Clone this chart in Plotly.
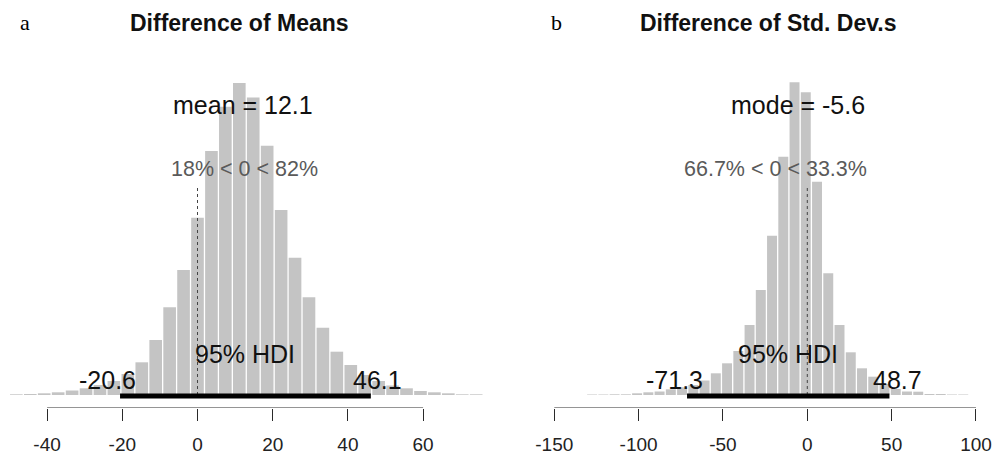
import plotly.graph_objects as go

# ---------------- data ----------------
# Panel a: Difference of Means (posterior histogram)
means_bin_width = 3.706
means_bin_centers = [-48.18, -44.47, -40.77, -37.06, -33.35, -29.65, -25.94, -22.24,
                     -18.53, -14.82, -11.12, -7.41, -3.71, 0.0, 3.71, 7.41, 11.12,
                     14.82, 18.53, 22.24, 25.94, 29.65, 33.35, 37.06, 40.77, 44.47,
                     48.18, 51.88, 55.59, 59.30, 63.00, 66.71, 70.41, 74.12]
means_heights = [0.7, 1.0, 1.7, 2.7, 4.5, 6.7, 10, 14, 21, 32.7, 55, 87.7, 125, 177.3,
                 244, 288.3, 312, 297.5, 249.3, 185, 137.3, 97.7, 67.3, 43.3, 30, 20,
                 14, 9.5, 6.7, 4, 2.7, 1.7, 0.7, 0.7]
means_stat_label = "mean"
means_stat = 12.1
means_hdi = [-20.6, 46.1]
means_pct = [18, 82]
means_ticks = [-40, -20, 0, 20, 40, 60]

# Panel b: Difference of Std. Dev.s (posterior histogram)
sds_bin_width = 6.667
sds_bin_centers = [-127.57, -120.91, -114.24, -107.57, -100.91, -94.24, -87.57, -80.91,
                   -74.24, -67.57, -60.91, -54.24, -47.57, -40.90, -34.24, -27.57,
                   -20.90, -14.23, -7.57, -0.90, 5.77, 12.43, 19.10, 25.77, 32.43,
                   39.10, 45.77, 52.44, 59.10, 65.77, 72.44, 79.10, 85.77, 92.44]
sds_heights = [0.5, 0.5, 0.7, 0.7, 1.7, 2.7, 3.5, 5.7, 7.7, 10, 14.5, 21.7, 31.7, 44,
               70, 105, 159.3, 238.3, 312.7, 302.7, 213.3, 121.7, 70, 42.7, 26.7, 18.3,
               11, 6, 3.5, 3.3, 1, 1, 0.5, 0.5]
sds_stat_label = "mode"
sds_stat = -5.6
sds_hdi = [-71.3, 48.7]
sds_pct = [66.7, 33.3]
sds_ticks = [-150, -100, -50, 0, 50, 100]

titles = ["Difference of Means", "Difference of Std. Dev.s"]
panel_letters = ["a", "b"]
comp_val = 0

# ---------------- style ----------------
W, H = 994, 455
SANS = "Liberation Sans, Arial, sans-serif"
SERIF = "Liberation Serif, Times New Roman, serif"
BAR = "#c4c4c4"
TXT = "#111111"
CVTXT = "#5a5a5a"
AX = "#2a2a2a"

# pixel geometry (paper = pixels, margins 0)
plot_top_px, axis_px = 60, 408
ydom = [1 - axis_px / H, 1 - plot_top_px / H]
yrange = [-13, 335]

panels = [
    dict(centers=means_bin_centers, heights=means_heights, bw=means_bin_width,
         scale=3.76, zero_px=197.5, dom_px=(0, 494), stat_label=means_stat_label,
         stat=means_stat, hdi=means_hdi, pct=means_pct, ticks=means_ticks,
         cv_shift=46.5, lo_shift=-13, hi_shift=7, title_x=239.7, letter_x=25),
    dict(centers=sds_bin_centers, heights=sds_heights, bw=sds_bin_width,
         scale=1.6868, zero_px=807.3, dom_px=(520, 994), stat_label=sds_stat_label,
         stat=sds_stat, hdi=sds_hdi, pct=sds_pct, ticks=sds_ticks,
         cv_shift=-32, lo_shift=-13, hi_shift=8, title_x=767.5, letter_x=556),
]

fig = go.Figure()
annotations = []
shapes = []

def fmt_pct(v):
    return f"{v:g}%"

for i, p in enumerate(panels):
    n = "" if i == 0 else str(i + 1)
    xa, ya = "x" + n, "y" + n
    gap_units = 1.3 / p["scale"]
    fig.add_trace(go.Bar(
        x=p["centers"], y=p["heights"], width=p["bw"] - gap_units,
        marker=dict(color=BAR, line=dict(width=0)),
        xaxis=xa, yaxis=ya, showlegend=False, hoverinfo="skip"))
    # comparison value dotted line
    fig.add_trace(go.Scatter(
        x=[comp_val, comp_val], y=[0, 210], mode="lines",
        line=dict(color="#444444", width=1, dash="dot"),
        xaxis=xa, yaxis=ya, showlegend=False, hoverinfo="skip"))
    # HDI bar
    fig.add_trace(go.Scatter(
        x=p["hdi"], y=[-1, -1], mode="lines",
        line=dict(color="black", width=5),
        xaxis=xa, yaxis=ya, showlegend=False, hoverinfo="skip"))

    d0, d1 = p["dom_px"]
    xr = [(d0 - p["zero_px"]) / p["scale"], (d1 - p["zero_px"]) / p["scale"]]
    xaxis_def = dict(
        domain=[d0 / W, d1 / W], range=xr, anchor=ya,
        showgrid=False, zeroline=False, showline=False,
        ticks="outside", ticklen=12, tickwidth=1, tickcolor=AX,
        tickvals=p["ticks"], ticktext=[str(t) for t in p["ticks"]],
        tickfont=dict(family=SANS, size=19, color="#222222"),
        ticklabelstandoff=7, fixedrange=True)
    yaxis_def = dict(domain=ydom, range=yrange, visible=False, anchor=xa,
                     fixedrange=True)
    fig.update_layout(**{"xaxis" + n: xaxis_def, "yaxis" + n: yaxis_def})

    # axis line spanning only the tick range (R style)
    shapes.append(dict(type="line", xref=xa, yref=ya,
                       x0=p["ticks"][0], x1=p["ticks"][-1], y0=-13, y1=-13,
                       line=dict(color=AX, width=1)))

    # texts
    annotations.append(dict(
        xref=xa, yref=ya, x=p["stat"], y=290,
        text=f"{p['stat_label']} = {p['stat']:g}", showarrow=False,
        xanchor="center", yanchor="middle",
        font=dict(family=SANS, size=25, color=TXT)))
    annotations.append(dict(
        xref=xa, yref=ya, x=comp_val, y=226, xshift=p["cv_shift"],
        text=f"{fmt_pct(p['pct'][0])} < {comp_val} < {fmt_pct(p['pct'][1])}",
        showarrow=False, xanchor="center", yanchor="middle",
        font=dict(family=SANS, size=21.5, color=CVTXT)))
    annotations.append(dict(
        xref=xa, yref=ya, x=(p["hdi"][0] + p["hdi"][1]) / 2, y=41,
        text="95% HDI", showarrow=False, xanchor="center", yanchor="middle",
        font=dict(family=SANS, size=25, color=TXT)))
    annotations.append(dict(
        xref=xa, yref=ya, x=p["hdi"][0], y=15, xshift=p["lo_shift"],
        text=f"{p['hdi'][0]:g}", showarrow=False, xanchor="center", yanchor="middle",
        font=dict(family=SANS, size=25, color=TXT)))
    annotations.append(dict(
        xref=xa, yref=ya, x=p["hdi"][1], y=15, xshift=p["hi_shift"],
        text=f"{p['hdi'][1]:g}", showarrow=False, xanchor="center", yanchor="middle",
        font=dict(family=SANS, size=25, color=TXT)))
    # title
    annotations.append(dict(
        xref="paper", yref="paper", x=p["title_x"] / W, y=1 - 23 / H,
        text=f"<b>{titles[i]}</b>", showarrow=False, xanchor="center",
        yanchor="middle", font=dict(family=SANS, size=23, color="#111111")))
    # panel letter
    annotations.append(dict(
        xref="paper", yref="paper", x=p["letter_x"] / W, y=1 - 22 / H,
        text=panel_letters[i], showarrow=False, xanchor="center",
        yanchor="middle", font=dict(family=SERIF, size=22, color="black")))

fig.update_layout(
    width=W, height=H, margin=dict(l=0, r=0, t=0, b=0),
    paper_bgcolor="white", plot_bgcolor="white",
    annotations=annotations, shapes=shapes, showlegend=False,
    barmode="overlay")

fig.write_html(
    "out.html",
    config={"displayModeBar": False, "staticPlot": True},
    post_script="document.body.style.margin='0';document.body.style.padding='0';"
                "document.body.style.overflow='hidden';")
